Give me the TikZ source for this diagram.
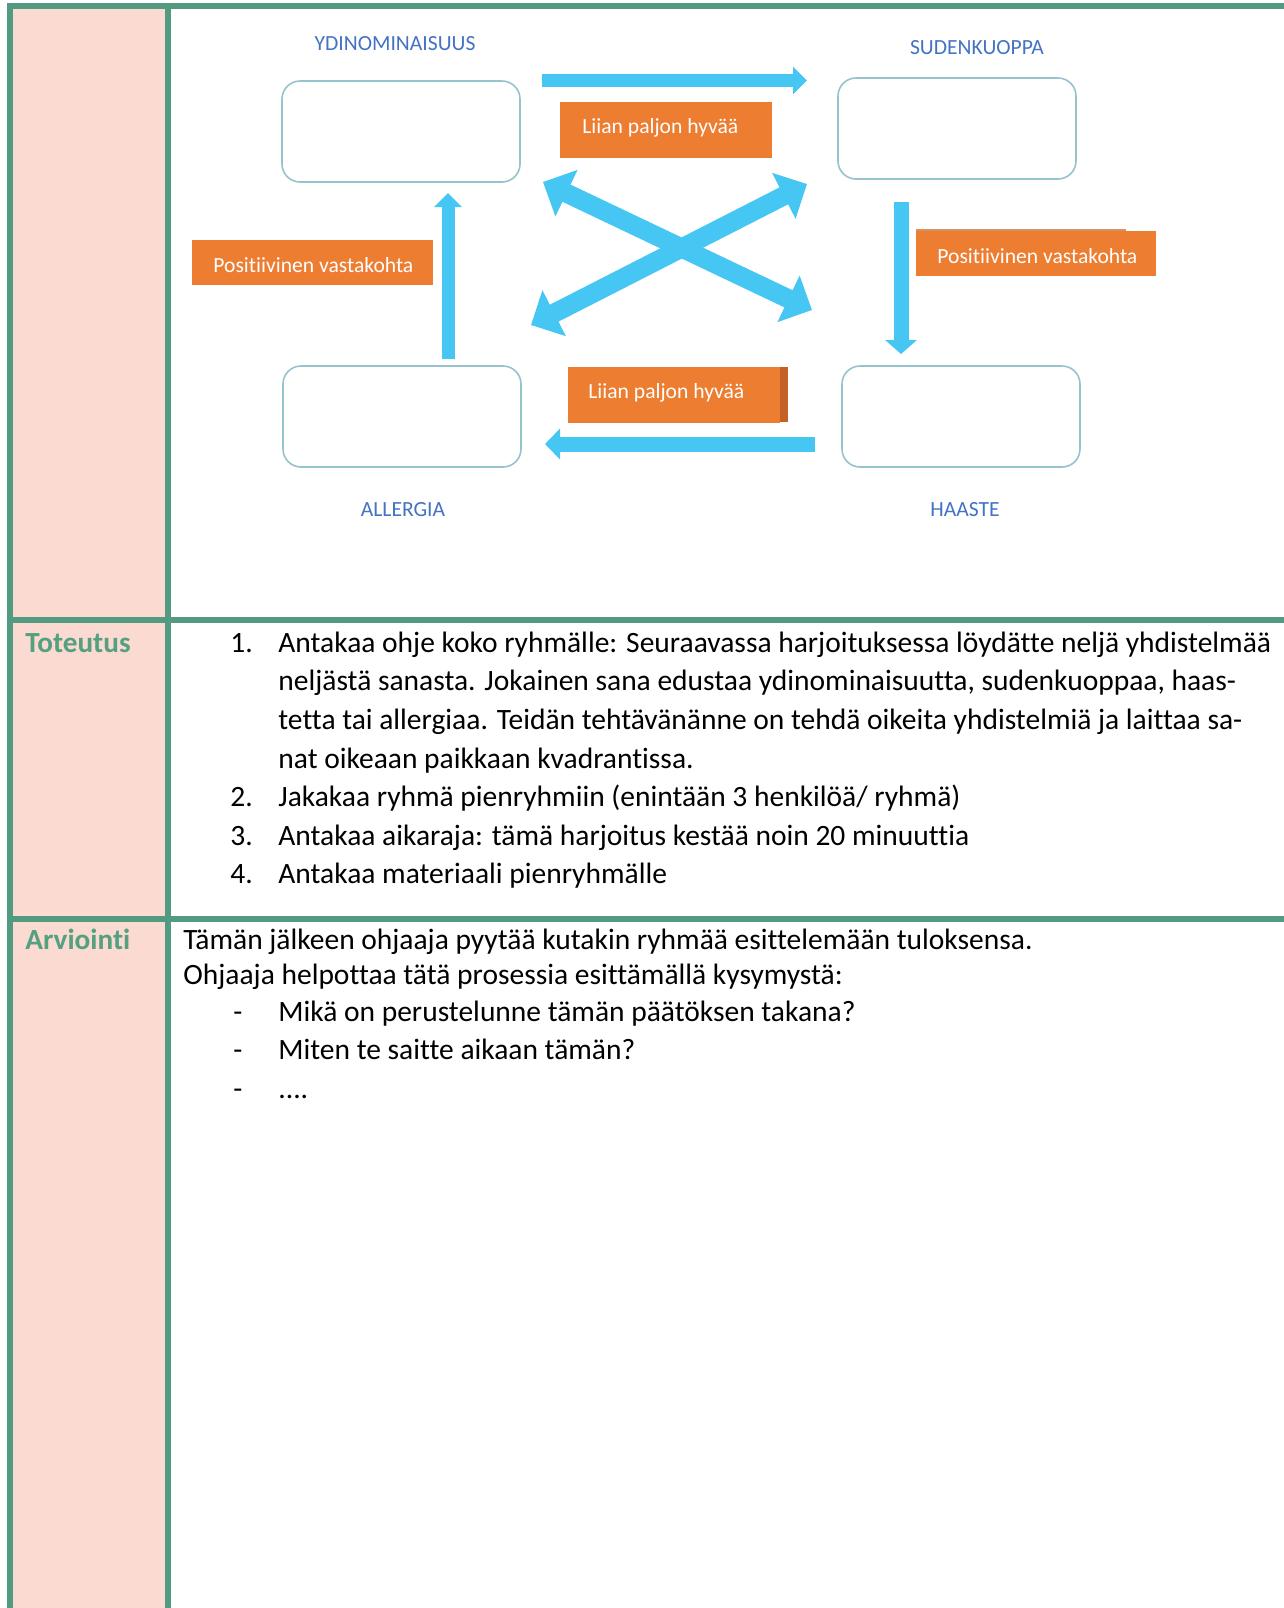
\documentclass[tikz,border=0pt]{standalone}
\usepackage{fontspec}
\setmainfont{Carlito}[Ligatures=NoCommon]
\usetikzlibrary{arrows.meta}

\definecolor{rule}{RGB}{82,154,128}
\definecolor{side}{RGB}{251,219,209}
\definecolor{orng}{RGB}{237,125,49}
\definecolor{orngdark}{RGB}{196,98,38}
\definecolor{sky}{RGB}{69,198,243}
\definecolor{lbl}{RGB}{68,114,196}
\definecolor{boxline}{RGB}{150,195,205}
\definecolor{headgreen}{RGB}{84,160,128}

\tikzset{
  slot/.style={draw=boxline, line width=0.8pt, rounded corners=9pt, fill=white,
    minimum width=119pt, minimum height=50.5pt, inner sep=0pt},
  quad/.style={text=lbl, font=\fontsize{10.8}{13}\selectfont, inner sep=0pt, anchor=base},
  tag/.style={fill=orng, inner sep=0pt, anchor=north west},
  tagtext/.style={text=white, font=\fontsize{10.8}{13}\selectfont, inner sep=0pt, anchor=base west},
  flowarrow/.style={draw=sky, line width=6.5pt, -{Triangle[width=13.5pt,length=7pt]}},
  crossarrow/.style={draw=sky, line width=9.5pt, {Triangle[width=25pt,length=13pt]}-{Triangle[width=25pt,length=13pt]}},
  body/.style={font=\fontsize{14.75}{18}\selectfont, inner sep=0pt, anchor=base west},
  rowhead/.style={font=\fontsize{14.6}{18}\selectfont\bfseries, text=headgreen, inner sep=0pt, anchor=base west}
}

\begin{document}
\begin{tikzpicture}[x=0.5pt,y=-0.5pt]
\useasboundingbox (0,0) rectangle (1284,1608);
\fill[white] (0,0) rectangle (1284,1608);

% table: shaded first column and green rules
\fill[side] (13,9) rectangle (165,1608);
\fill[rule] (7,3) rectangle (1284,9);
\fill[rule] (7,3) rectangle (13,1608);
\fill[rule] (165,3) rectangle (171,1608);
\fill[rule] (7,617) rectangle (1284,623);
\fill[rule] (7,916) rectangle (1284,922);

% quadrant boxes
\node[slot] (core) at (401,131.5) {};
\node[slot] (pit)  at (957,128.5) {};
\node[slot] (allergy) at (402,416.5) {};
\node[slot] (challenge) at (961,416.5) {};

\node[quad] (coreL) at (395,50) {YDINOMINAISUUS};
\node[quad] (pitL) at (977,54) {SUDENKUOPPA};
\node[quad] (allergyL) at (403,516) {ALLERGIA};
\node[quad] (challengeL) at (965,516) {HAASTE};

% arrows between the quadrants
\coordinate (t1) at (542,80.5);  \coordinate (t2) at (807,80.5);
\coordinate (l1) at (448,359);   \coordinate (l2) at (448,193);
\coordinate (r1) at (901,202);   \coordinate (r2) at (901,354);
\coordinate (b1) at (815,444);   \coordinate (b2) at (545,444);
\coordinate (x1) at (543,182);   \coordinate (x2) at (812,310);
\coordinate (x3) at (807,184);   \coordinate (x4) at (531,325);

\draw[flowarrow] (t1) -- (t2);
\draw[flowarrow] (l1) -- (l2);
\draw[flowarrow, line width=7.5pt, -{Triangle[width=15.5pt,length=7pt]}] (r1) -- (r2);
\draw[flowarrow, line width=7.5pt, -{Triangle[width=15pt,length=7.5pt]}] (b1) -- (b2);
\draw[crossarrow] (x1) -- (x2);
\draw[crossarrow] (x3) -- (x4);

% orange labels
\node[tag, minimum width=106pt, minimum height=28pt] (tagTop) at (560,102) {};
\node[tagtext] (tagTopT) at (582,133) {Liian paljon hyvää};

\node[tag, minimum width=120.5pt, minimum height=22.5pt] (tagLeft) at (192,240) {};
\node[tagtext] (tagLeftT) at (213,272) {Positiivinen vastakohta};

\fill[orngdark!70] (916,228.5) rectangle (1126,231);
\node[tag, minimum width=120pt, minimum height=22.5pt] (tagRight) at (916,231) {};
\node[tagtext] (tagRightT) at (937,263) {Positiivinen vastakohta};

\fill[orngdark] (776,367) rectangle (788,422);
\node[tag, minimum width=106pt, minimum height=28pt] (tagBot) at (568,367) {};
\node[tagtext] (tagBotT) at (588,398) {Liian paljon hyvää};

% Toteutus row
\node[rowhead] (h1) at (25,652) {Toteutus};
\node[body] (n1) at (230,652) {1.};
\node[body] (s1a) at (278,652) {Antakaa ohje koko ryhmälle: Seuraavassa harjoituksessa löydätte neljä yhdistelmää};
\node[body] (s1b) at (278,690) {neljästä sanasta. Jokainen sana edustaa ydinominaisuutta, sudenkuoppaa, haas-};
\node[body] (s1c) at (278,729) {tetta tai allergiaa. Teidän tehtävänänne on tehdä oikeita yhdistelmiä ja laittaa sa-};
\node[body] (s1d) at (278,768) {nat oikeaan paikkaan kvadrantissa.};
\node[body] (n2) at (230,806) {2.};
\node[body] (s2) at (278,806) {Jakakaa ryhmä pienryhmiin (enintään 3 henkilöä/ ryhmä)};
\node[body] (n3) at (230,845) {3.};
\node[body] (s3) at (278,845) {Antakaa aikaraja: tämä harjoitus kestää noin 20 minuuttia};
\node[body] (n4) at (230,883) {4.};
\node[body] (s4) at (278,883) {Antakaa materiaali pienryhmälle};

% Arviointi row
\node[rowhead] (h2) at (25,949) {Arviointi};
\node[body] (a1) at (183,949) {Tämän jälkeen ohjaaja pyytää kutakin ryhmää esittelemään tuloksensa.};
\node[body] (a2) at (183,984) {Ohjaaja helpottaa tätä prosessia esittämällä kysymystä:};
\node[body] (d1) at (233,1021) {-};
\node[body] (q1) at (278,1021) {Mikä on perustelunne tämän päätöksen takana?};
\node[body] (d2) at (233,1059) {-};
\node[body] (q2) at (278,1059) {Miten te saitte aikaan tämän?};
\node[body] (d3) at (233,1098) {-};
\node[body] (q3) at (278,1098) {....};
\end{tikzpicture}
\end{document}
